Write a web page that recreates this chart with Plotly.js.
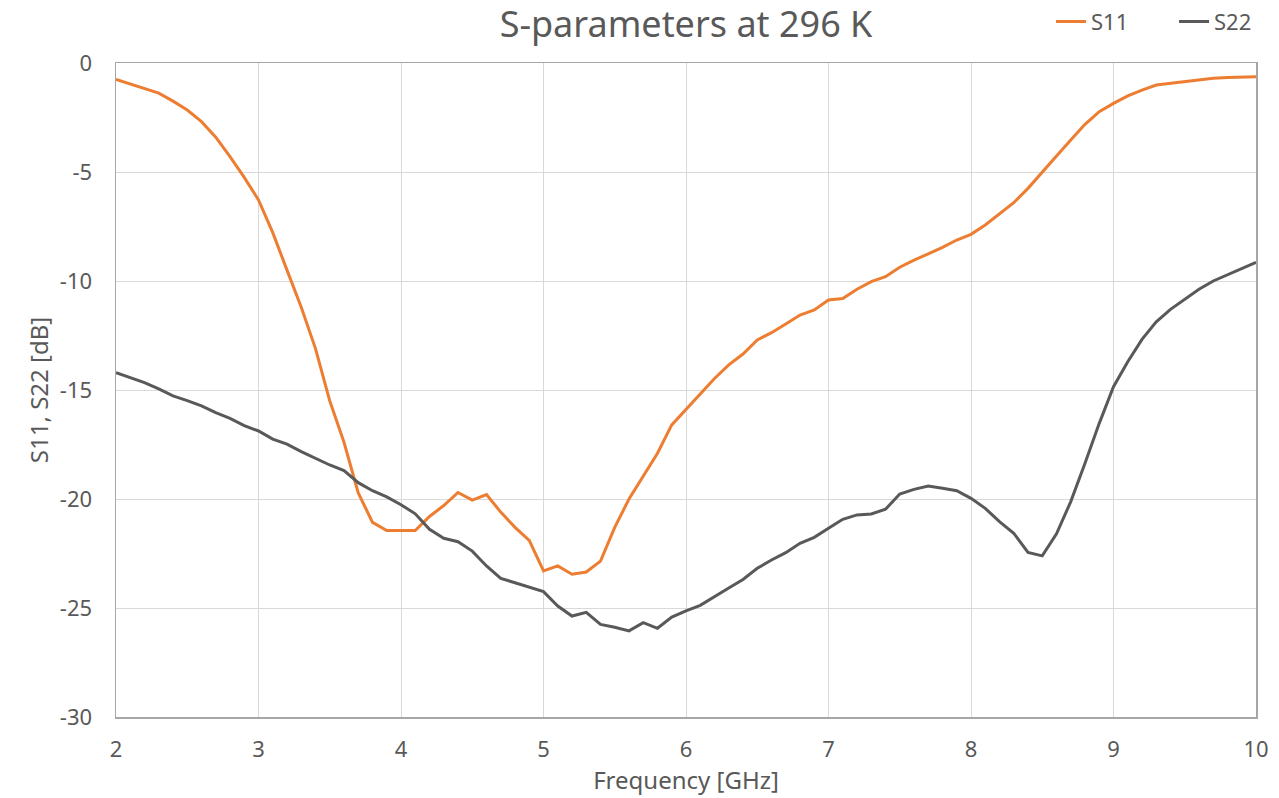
<!DOCTYPE html>
<html>
<head>
<meta charset="utf-8">
<script src="https://cdn.plot.ly/plotly-3.0.1.min.js"></script>
<style>html,body{margin:0;padding:0;background:#fff;}#chart{width:1279px;height:798px;}</style>
</head>
<body>
<div id="chart"></div>
<script>
const freq = [2.0,2.1,2.2,2.3,2.4,2.5,2.6,2.7,2.8,2.9,3.0,3.1,3.2,3.3,3.4,3.5,3.6,3.7,3.8,3.9,4.0,4.1,4.2,4.3,4.4,4.5,4.6,4.7,4.8,4.9,5.0,5.1,5.2,5.3,5.4,5.5,5.6,5.7,5.8,5.9,6.0,6.1,6.2,6.3,6.4,6.5,6.6,6.7,6.8,6.9,7.0,7.1,7.2,7.3,7.4,7.5,7.6,7.7,7.8,7.9,8.0,8.1,8.2,8.3,8.4,8.5,8.6,8.7,8.8,8.9,9.0,9.1,9.2,9.3,9.4,9.5,9.6,9.7,9.8,9.9,10.0];
const s11 = [-0.75,-0.95,-1.15,-1.38,-1.75,-2.16,-2.69,-3.4,-4.3,-5.25,-6.28,-7.78,-9.5,-11.2,-13.1,-15.5,-17.4,-19.72,-21.07,-21.45,-21.45,-21.45,-20.8,-20.3,-19.7,-20.05,-19.8,-20.6,-21.3,-21.9,-23.3,-23.07,-23.45,-23.35,-22.85,-21.3,-20.0,-18.95,-17.9,-16.6,-15.89,-15.15,-14.47,-13.85,-13.35,-12.7,-12.37,-11.97,-11.56,-11.33,-10.87,-10.8,-10.38,-10.03,-9.8,-9.37,-9.04,-8.76,-8.46,-8.12,-7.86,-7.43,-6.9,-6.41,-5.75,-5.03,-4.27,-3.53,-2.81,-2.23,-1.85,-1.51,-1.24,-1.01,-0.93,-0.83,-0.78,-0.70,-0.66,-0.63,-0.63];
const s22 = [-14.2,-14.43,-14.66,-14.95,-15.27,-15.49,-15.73,-16.04,-16.3,-16.63,-16.88,-17.25,-17.48,-17.83,-18.13,-18.44,-18.7,-19.25,-19.62,-19.9,-20.26,-20.68,-21.39,-21.8,-21.96,-22.39,-23.07,-23.64,-23.84,-24.05,-24.25,-24.91,-25.37,-25.2,-25.75,-25.88,-26.05,-25.67,-25.93,-25.42,-25.13,-24.88,-24.46,-24.08,-23.69,-23.18,-22.8,-22.46,-22.03,-21.76,-21.34,-20.93,-20.73,-20.69,-20.47,-19.77,-19.56,-19.4,-19.51,-19.62,-19.97,-20.43,-21.04,-21.57,-22.45,-22.61,-21.6,-20.12,-18.36,-16.53,-14.85,-13.7,-12.68,-11.87,-11.3,-10.84,-10.38,-10.0,-9.72,-9.45,-9.14];
const xTicks = [2,3,4,5,6,7,8,9,10];
const yTicks = [0,-5,-10,-15,-20,-25,-30];
const seriesNames = ['S11','S22'];

const font = 'Noto Sans, Open Sans, sans-serif';
const traces = [
  {x: freq, y: s11, name: seriesNames[0], type: 'scatter', mode: 'lines',
   line: {color: '#ED7D31', width: 3}},
  {x: freq, y: s22, name: seriesNames[1], type: 'scatter', mode: 'lines',
   line: {color: '#595959', width: 3}}
];
const layout = {
  width: 1279, height: 798,
  margin: {l: 116, r: 23, t: 63, b: 81, autoexpand: false},
  paper_bgcolor: '#fff', plot_bgcolor: '#fff',
  font: {family: font, color: '#595959', size: 22},
  title: {text: 'S-parameters at 296 K', font: {size: 36, color: '#595959', family: font},
          x: 0.5, xref: 'paper', xanchor: 'center', y: 0.970, yref: 'container', yanchor: 'middle'},
  showlegend: true,
  legend: {orientation: 'h', x: 1.036, xanchor: 'right', y: 1.063, yanchor: 'middle',
           entrywidth: 78, entrywidthmode: 'pixels',
           font: {size: 22, color: '#595959'}, bgcolor: 'rgba(0,0,0,0)', traceorder: 'normal'},
  xaxis: {range: [2, 10], tickvals: xTicks, ticktext: xTicks.map(String),
          showgrid: true, gridcolor: '#d9d9d9', gridwidth: 1,
          showline: true, linecolor: '#a6a6a6', linewidth: 1.5, mirror: true,
          ticks: '', zeroline: false, ticklabelstandoff: 12, automargin: false,
          tickfont: {size: 22, color: '#595959'},
          title: {text: 'Frequency [GHz]', font: {size: 24, color: '#595959'}, standoff: 2}},
  yaxis: {range: [-30, 0], tickvals: yTicks, ticktext: yTicks.map(String),
          showgrid: true, gridcolor: '#d9d9d9', gridwidth: 1,
          showline: true, linecolor: '#a6a6a6', linewidth: 1.5, mirror: true,
          ticks: '', zeroline: false, ticklabelstandoff: 18, automargin: false,
          tickfont: {size: 22, color: '#595959'},
          title: {text: 'S11, S22 [dB]', font: {size: 24, color: '#595959'}, standoff: 4}}
};
Plotly.newPlot('chart', traces, layout, {displayModeBar: false, staticPlot: true});
</script>
</body>
</html>
